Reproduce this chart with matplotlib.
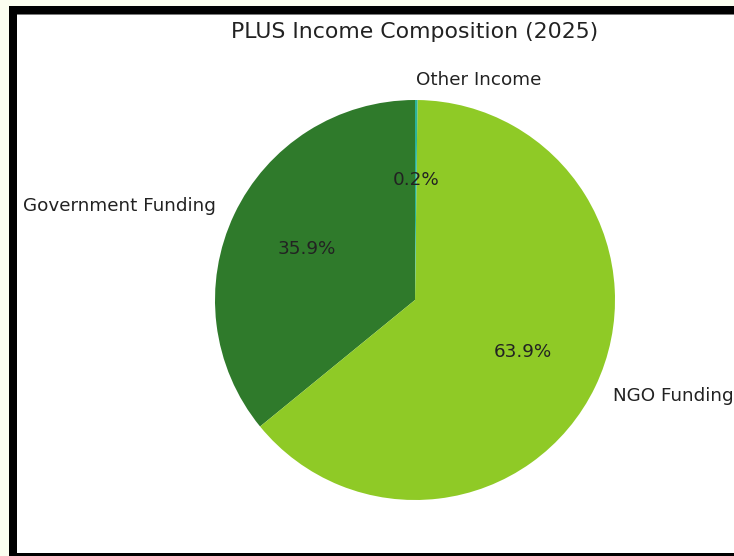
import matplotlib
matplotlib.use("Agg")
import matplotlib.pyplot as plt
from matplotlib.patches import Rectangle

# income shares (percent)
sources = ['Government Funding', 'NGO Funding', 'Other Income']
shares = [35.9, 63.9, 0.2]
colors = ['#2f7a2b', '#8fca26', '#2bb39a']
title = 'PLUS Income Composition (2025)'

W, H = 734, 556
fig = plt.figure(figsize=(W / 100, H / 100), dpi=100)
fig.patch.set_facecolor('#fbfef0')


def px_rect(x0, y0, x1, y1, color):
    # rectangle given in pixel coords measured from the top-left
    fig.patches.append(Rectangle((x0 / W, 1 - y1 / H), (x1 - x0) / W, (y1 - y0) / H,
                                 transform=fig.transFigure, facecolor=color,
                                 edgecolor='none', zorder=-5))


# screenshot frame: black border left/top/bottom, white canvas inside
px_rect(9, 6, W, H, 'black')
px_rect(17, 14, W, 553, 'white')
px_rect(17, 14, W, 15, '#7a7a7a')

# pie occupies a 400x400 px box centred at (415, 300)
ax = fig.add_axes([215 / W, 1 - 500 / H, 400 / W, 400 / H])
ax.pie(shares, labels=sources, colors=colors, autopct='%1.1f%%',
       startangle=90, textprops={'fontsize': 13.2, 'color': '#222222'})
ax.set_xlim(-1, 1)
ax.set_ylim(-1, 1)
ax.set_aspect('equal')
ax.axis('off')

fig.text(415 / W, 1 - 32 / H, title, ha='center', va='center',
         fontsize=15.8, color='#222222')

fig.savefig('out.png', dpi=100, facecolor=fig.get_facecolor())
